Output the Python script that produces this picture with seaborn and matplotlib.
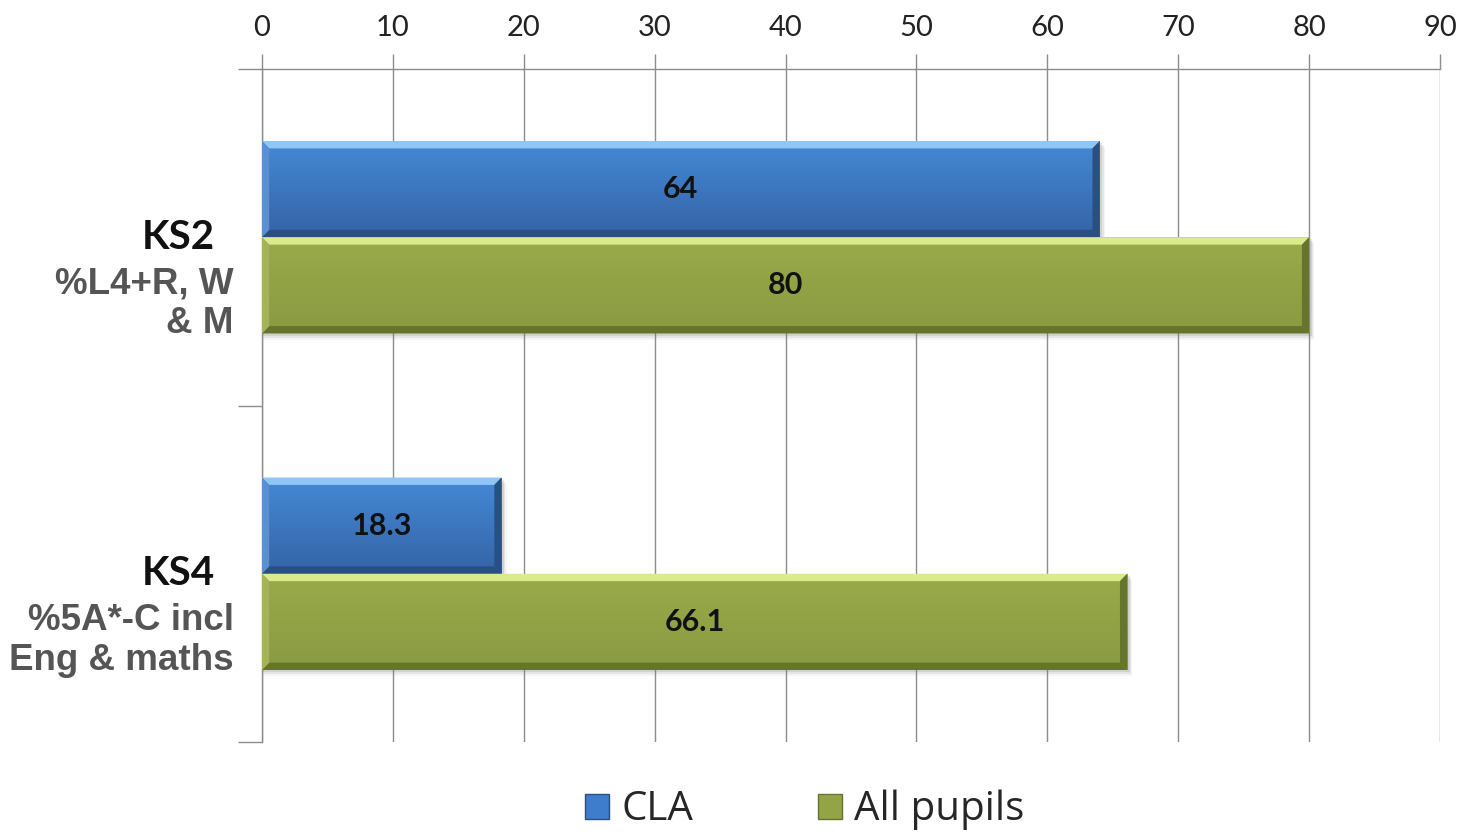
import numpy as np
import pandas as pd
import matplotlib
matplotlib.use("Agg")
import matplotlib.pyplot as plt
import seaborn as sns
from matplotlib.patches import Polygon, Rectangle, Patch
from matplotlib.colors import to_rgb
from matplotlib.transforms import blended_transform_factory

# ---- data ----
stages = ["KS2", "KS4"]
measures = ["%L4+R, W\n& M", "%5A*-C incl\nEng & maths"]
series = ["CLA", "All pupils"]
cla = [64, 18.3]
all_pupils = [80, 66.1]
x_ticks = list(range(0, 91, 10))

df = pd.DataFrame({
    "stage": stages * 2,
    "group": [series[0]] * len(stages) + [series[1]] * len(stages),
    "value": cla + all_pupils,
})

# bevel colours per series
styles = {
    "CLA": dict(base="#3E7DCB", hi="#8FC6F4", top="#4589D6", bot="#3464A6",
                edge="#2A4F80", side="#5A8FD0"),
    "All pupils": dict(base="#93A447", hi="#DCEA8E", top="#99AB4A", bot="#8A9A42",
                       edge="#66752E", side="#A4B35A"),
}

sns.set_theme(style="white")
plt.rcParams["font.family"] = ["Lato", "DejaVu Sans"]

fig = plt.figure(figsize=(14.62, 8.34), dpi=100)
ax = fig.add_axes([262 / 1462, 1 - 742 / 834, 1178 / 1462, 673 / 834])

palette = {s: styles[s]["base"] for s in series}
sns.barplot(data=df, y="stage", x="value", hue="group", order=stages,
            hue_order=series, palette=palette, orient="h", width=0.572,
            saturation=1, linewidth=0, legend=False, ax=ax, zorder=3)

bars = list(ax.patches)
bar_series = [series[0]] * len(stages) + [series[1]] * len(stages)
bar_values = cla + all_pupils

bx, by = 0.55, 0.022
for patch, s, v in zip(bars, bar_series, bar_values):
    st = styles[s]
    x0, y0 = patch.get_x(), patch.get_y()
    w, h = patch.get_width(), patch.get_height()
    x1, y1 = x0 + w, y0 + h
    # soft drop shadow
    for k, a in enumerate([0.18, 0.12, 0.07]):
        ax.add_patch(Rectangle((x0 + 0.1, y0 + 0.006 * (k + 1)), w + 0.1 * (k + 1), h,
                               facecolor="#777777", alpha=a, lw=0, zorder=2))
    # vertical gradient fill
    c_top, c_bot = np.array(to_rgb(st["top"])), np.array(to_rgb(st["bot"]))
    t = np.linspace(0, 1, 64)[:, None, None]
    grad = c_top * (1 - t) + c_bot * t
    im = ax.imshow(grad, extent=(x0, x1, y1, y0), origin="upper", aspect="auto",
                   zorder=3.5, interpolation="bilinear")
    im.set_clip_path(patch)
    # bevel faces
    ax.add_patch(Polygon([(x0, y0), (x1, y0), (x1 - bx, y0 + by), (x0 + bx, y0 + by)],
                         closed=True, facecolor=st["hi"], lw=0, zorder=4))
    ax.add_patch(Polygon([(x0, y1), (x1, y1), (x1 - bx, y1 - by), (x0 + bx, y1 - by)],
                         closed=True, facecolor=st["edge"], lw=0, zorder=4))
    ax.add_patch(Polygon([(x0, y0), (x0 + bx, y0 + by), (x0 + bx, y1 - by), (x0, y1)],
                         closed=True, facecolor=st["side"], lw=0, zorder=4))
    ax.add_patch(Polygon([(x1, y0), (x1 - bx, y0 + by), (x1 - bx, y1 - by), (x1, y1)],
                         closed=True, facecolor=st["edge"], lw=0, zorder=4))
    # value label
    ax.text(x0 + w / 2, y0 + h / 2, f"{v:g}", ha="center", va="center",
            fontsize=22, fontweight="bold", color="#111111", zorder=6)

# ---- axes styling ----
ax.set_xlim(0, 90)
ax.set_ylim(1.5, -0.5)
ax.xaxis.tick_top()
ax.set_xticks(x_ticks)
ax.set_xticklabels([str(v) for v in x_ticks])
ax.tick_params(axis="x", which="major", labelsize=21, labelcolor="#222222",
               color="#8C8C8C", length=11, width=1, direction="out", pad=9)
ax.set_yticks([-0.5, 0.5, 1.5])
ax.set_yticklabels([])
ax.tick_params(axis="y", which="major", color="#8C8C8C", length=17, width=1,
               direction="out", left=True)
ax.set_xlabel("")
ax.set_ylabel("")
ax.xaxis.grid(True, color="#8C8C8C", lw=1)
ax.set_axisbelow(True)
for side in ["right", "bottom"]:
    ax.spines[side].set_visible(False)
for side in ["top", "left"]:
    ax.spines[side].set_visible(True)
    ax.spines[side].set_color("#8C8C8C")
    ax.spines[side].set_linewidth(1)

# ---- category labels ----
tr = blended_transform_factory(ax.transAxes, ax.transData)
for i, (stage, meas) in enumerate(zip(stages, measures)):
    ax.text(-0.040, i, stage, transform=tr, ha="right", va="center",
            fontsize=29, fontweight="bold", color="#111111")
    ax.text(-0.024, i + 0.088, meas, transform=tr, ha="right", va="top",
            fontsize=26.5, fontweight="bold", color="#555555",
            family=["Liberation Sans", "DejaVu Sans"], linespacing=1.16)

# ---- legend ----
handles = [Patch(facecolor=styles[s]["base"], edgecolor=styles[s]["edge"], lw=1)
           for s in series]
fig.legend(handles, series, loc="center", bbox_to_anchor=(805 / 1462, 1 - 810 / 834),
           ncol=2, frameon=False, handlelength=0.58, handleheight=0.58,
           handletextpad=0.32, columnspacing=3.1,
           prop={"family": ["Open Sans", "DejaVu Sans"], "size": 29})

fig.savefig("out.png", dpi=100)
